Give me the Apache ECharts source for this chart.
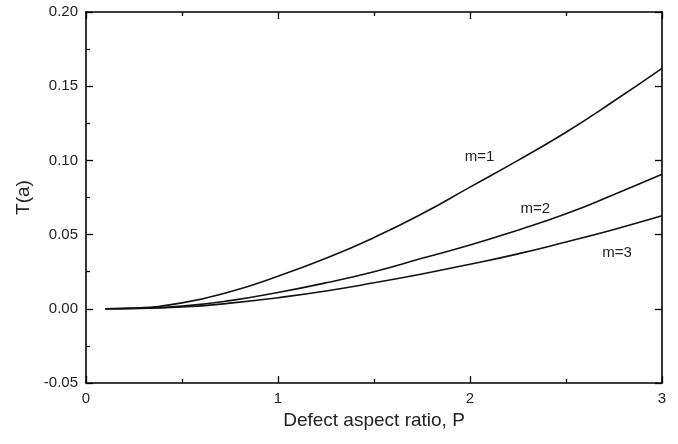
<!DOCTYPE html>
<html>
<head>
<meta charset="utf-8">
<script src="https://cdn.jsdelivr.net/npm/echarts@6/dist/echarts.min.js"></script>
<style>
  html, body { margin: 0; padding: 0; background: #fff; }
  #main { width: 678px; height: 444px; }
</style>
</head>
<body>
<div id="main"></div>
<script>
// aspect ratio P
const pValues = [0.1, 0.25, 0.5, 0.75, 1.0, 1.25, 1.5, 1.75, 2.0, 2.25, 2.5, 2.75, 3.0];
// T(a)
const tM1 = [0, 0.0005, 0.004, 0.0115, 0.022, 0.034, 0.048, 0.064, 0.082, 0.100, 0.119, 0.140, 0.162];
const tM2 = [0, 0.0003, 0.0018, 0.0055, 0.011, 0.0175, 0.025, 0.034, 0.043, 0.053, 0.064, 0.077, 0.0906];
const tM3 = [0, 0.0002, 0.0012, 0.0038, 0.0075, 0.012, 0.0175, 0.0235, 0.030, 0.037, 0.045, 0.0535, 0.0627];
const seriesNames = ['m=1', 'm=2', 'm=3'];
// where the curve names sit (data coords)
const labelAt = [[2.05, 0.1023], [2.34, 0.0673], [2.766, 0.0376]];

const font = 'Liberation Sans, Arial, sans-serif';
const chart = echarts.init(document.getElementById('main'));

function pairs(ys) {
    return pValues.map((p, i) => [p, ys[i]]);
}

const axisLine = { show: true, onZero: false, lineStyle: { color: '#000', width: 1.6 } };
const tick = { inside: true, length: 7, lineStyle: { color: '#000', width: 1.3 } };
const minor = { show: true, splitNumber: 2, length: 4, lineStyle: { color: '#000', width: 1.3 } };

const series = [tM1, tM2, tM3].map((ys, i) => ({
    name: seriesNames[i],
    type: 'line',
    data: pairs(ys),
    smooth: true,
    showSymbol: false,
    lineStyle: { color: '#111', width: 1.6 },
    markPoint: {
        symbol: 'circle',
        symbolSize: 0,
        silent: true,
        label: {
            show: true,
            position: 'inside',
            formatter: seriesNames[i],
            color: '#222',
            fontSize: 15,
            fontFamily: font
        },
        data: [{ coord: labelAt[i] }]
    }
}));

var option = {
    backgroundColor: '#ffffff',
    animation: false,
    grid: { left: 86, right: 16, top: 12, bottom: 61 },
    xAxis: [{
        type: 'value',
        min: 0,
        max: 3,
        interval: 1,
        name: 'Defect aspect ratio, P',
        nameLocation: 'middle',
        nameGap: 26,
        nameTextStyle: { fontSize: 19, color: '#222', fontFamily: font },
        axisLine: axisLine,
        axisTick: tick,
        minorTick: minor,
        axisLabel: { fontSize: 15, color: '#222', fontFamily: font, margin: 8 },
        splitLine: { show: false }
    }, {
        type: 'value',
        position: 'top',
        min: 0,
        max: 3,
        interval: 1,
        axisLine: axisLine,
        axisTick: tick,
        minorTick: minor,
        axisLabel: { show: false },
        splitLine: { show: false }
    }],
    yAxis: [{
        type: 'value',
        min: -0.05,
        max: 0.20,
        interval: 0.05,
        name: 'T(a)',
        nameLocation: 'middle',
        nameGap: 53,
        nameTextStyle: { fontSize: 19, color: '#222', fontFamily: font },
        axisLine: axisLine,
        axisTick: tick,
        minorTick: minor,
        axisLabel: {
            fontSize: 15, color: '#222', fontFamily: font, margin: 8,
            formatter: v => v.toFixed(2)
        },
        splitLine: { show: false }
    }, {
        type: 'value',
        position: 'right',
        min: -0.05,
        max: 0.20,
        interval: 0.05,
        axisLine: axisLine,
        axisTick: tick,
        axisLabel: { show: false },
        splitLine: { show: false }
    }],
    series: series
};

chart.setOption(option);
</script>
</body>
</html>
